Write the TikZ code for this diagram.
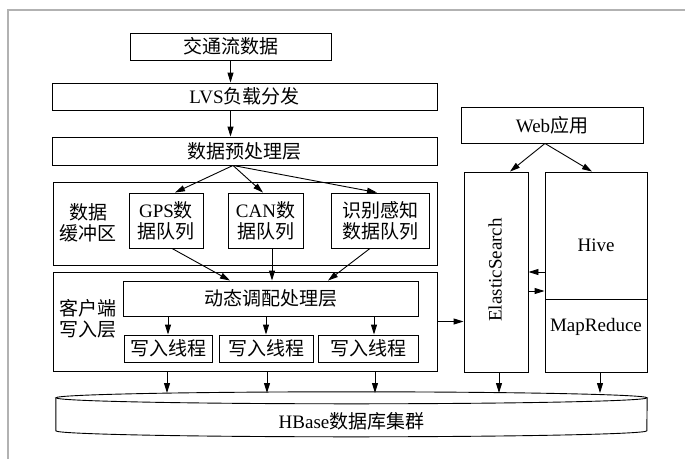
\documentclass[tikz,border=0pt]{standalone}
\usepackage{fontspec}
\setmainfont{Liberation Serif}
\newfontfamily\zhfont{Noto Sans CJK SC}
\newcommand{\zh}[1]{{\zhfont #1}}
\usetikzlibrary{arrows.meta}

\begin{document}
\begin{tikzpicture}[x=1pt,y=-1pt,>={Triangle[length=10pt,width=6pt]},
  every node/.style={font=\fontsize{19}{21}\selectfont},
  box/.style={draw,line width=0.9pt,inner sep=0pt,align=center},
  conn/.style={->,line width=0.9pt}]
\useasboundingbox (0,0) rectangle (685,459);
\draw[gray!60,line width=1.4pt] (8,459) -- (8,10) -- (685,10);

% left column
\node[box,minimum width=201pt,minimum height=27pt] (traffic) at (230.5,46.5) {\zh{交通流数据}};
\node[box,minimum width=385pt,minimum height=27pt] (lvs) at (244.5,96.5) {LVS\zh{负载分发}};
\node[box,minimum width=385pt,minimum height=28pt] (pre) at (244.5,151) {\zh{数据预处理层}};

\node[box,minimum width=384pt,minimum height=83pt] (buffer) at (245,223.5) {};
\node[align=center] (bufferlabel) at (88,223) {\zh{数据}\\\zh{缓冲区}};
\node[box,minimum width=74pt,minimum height=55pt] (gps) at (166,220.5) {GPS\zh{数}\\\zh{据队列}};
\node[box,minimum width=75pt,minimum height=55pt] (can) at (265.5,220.5) {CAN\zh{数}\\\zh{据队列}};
\node[box,minimum width=98pt,minimum height=55pt] (percept) at (380,220.5) {\zh{识别感知}\\\zh{数据队列}};

\node[box,minimum width=384pt,minimum height=99pt] (client) at (245,321.5) {};
\node[align=center] (clientlabel) at (88,319) {\zh{客户端}\\\zh{写入层}};
\node[box,minimum width=295pt,minimum height=35pt] (dyn) at (270.5,298.5) {\zh{动态调配处理层}};
\node[box,minimum width=88pt,minimum height=27pt] (w1) at (168,348.5) {\zh{写入线程}};
\node[box,minimum width=94pt,minimum height=27pt] (w2) at (266,348.5) {\zh{写入线程}};
\node[box,minimum width=100pt,minimum height=27pt] (w3) at (368,348.5) {\zh{写入线程}};

% right column
\node[box,minimum width=182pt,minimum height=36pt] (web) at (552,125) {Web\zh{应用}};
\node[box,minimum width=64pt,minimum height=200pt] (es) at (496,272) {};
\node[rotate=90] (eslabel) at (495,270) {ElasticSearch};
\node[box,minimum width=102pt,minimum height=127pt] (hive) at (596,235.5) {};
\node (hivelabel) at (596,245) {Hive};
\node[box,minimum width=102pt,minimum height=73pt] (mr) at (596,335.5) {};
\node (mrlabel) at (596,327) {MapReduce};

% database
\node[minimum width=591pt,minimum height=46pt,inner sep=0pt] (hbase) at (351.5,421) {HBase\zh{数据库集群}};
\coordinate (dbtop) at (351.5,393);
\draw[line width=0.9pt] (hbase.north) ellipse [x radius=295.5pt,y radius=6pt];
\draw[line width=0.9pt] (hbase.north west) -- ++(0,33)
  arc[start angle=180,end angle=360,x radius=295.5pt,y radius=6pt] -- (hbase.north east);

\coordinate (fan) at ([xshift=-11.5pt]pre.south);
\coordinate (webfan) at ([xshift=-7pt]web.south);

\path[conn] (traffic.south) edge (traffic.south |- lvs.north)
  (traffic.south |- lvs.south) edge (traffic.south |- pre.north)
  (fan) edge ([xshift=9pt]gps.north)
  (fan) edge ([xshift=-2.5pt]can.north)
  (fan) edge ([xshift=-3pt]percept.north)
  ([xshift=6pt]gps.south) edge ([xshift=-40.5pt]dyn.north)
  ([xshift=6.5pt]can.south) edge ([xshift=1.5pt]dyn.north)
  ([xshift=-10pt]percept.south) edge ([xshift=57.5pt]dyn.north)
  (w1.north |- dyn.south) edge (w1.north)
  (w2.north |- dyn.south) edge (w2.north)
  ([xshift=6pt]w3.north |- dyn.south) edge ([xshift=6pt]w3.north)
  ([xshift=-1pt]w1.south |- client.south) edge ([xshift=-1pt]w1.south |- dbtop)
  ([xshift=1pt]w2.south |- client.south) edge ([xshift=1pt]w2.south |- dbtop)
  ([xshift=7pt]w3.south |- client.south) edge ([xshift=7pt]w3.south |- dbtop)
  ([xshift=3pt]es.south) edge ([xshift=3pt]es.south |- dbtop)
  ([xshift=4pt]mr.south) edge ([xshift=4pt]mr.south |- dbtop)
  (client.east) edge (client.east -| es.west)
  (es.east -| hive.west) edge (es.east)
  ([yshift=-19pt]es.east) edge ([yshift=-19pt]es.east -| hive.west)
  (webfan) edge ([xshift=14pt]es.north)
  (webfan) edge ([xshift=-4pt]hive.north);
\end{tikzpicture}
\end{document}
